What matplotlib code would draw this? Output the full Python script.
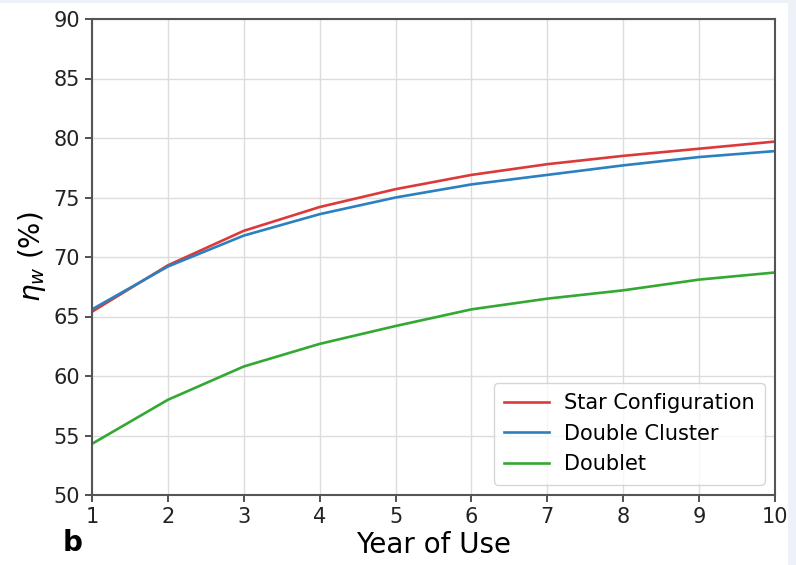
import matplotlib.pyplot as plt
from matplotlib.patches import Rectangle

years = [1, 2, 3, 4, 5, 6, 7, 8, 9, 10]
star = [65.4, 69.3, 72.2, 74.2, 75.7, 76.9, 77.8, 78.5, 79.1, 79.7]
double_cluster = [65.6, 69.2, 71.8, 73.6, 75.0, 76.1, 76.9, 77.7, 78.4, 78.9]
doublet = [54.3, 58.0, 60.8, 62.7, 64.2, 65.6, 66.5, 67.2, 68.1, 68.7]

fig = plt.figure(figsize=(7.96, 5.65), dpi=100, facecolor='white')
# light strips along top and right edge
fig.patches.append(Rectangle((0, 562 / 565), 1, 3 / 565, transform=fig.transFigure,
                             facecolor='#eef2f8', edgecolor='none', zorder=-10))
fig.patches.append(Rectangle((788 / 796, 0), 8 / 796, 1, transform=fig.transFigure,
                             facecolor='#eef2f8', edgecolor='none', zorder=-10))
ax = fig.add_axes([92 / 796, 70 / 565, 683 / 796, 476 / 565])

ax.plot(years, star, color='#dc3a3a', lw=1.9, label='Star Configuration')
ax.plot(years, double_cluster, color='#2b80c0', lw=1.9, label='Double Cluster')
ax.plot(years, doublet, color='#33a833', lw=1.9, label='Doublet')

ax.set_xlim(1, 10)
ax.set_ylim(50, 90)
ax.set_xticks(years)
ax.set_yticks(range(50, 91, 5))
ax.grid(True, color='#dcdcdc', lw=1)
ax.tick_params(labelsize=15, colors='#333333', labelcolor='#222222', length=5, width=1.2)
for spine in ax.spines.values():
    spine.set_color('#555555')
    spine.set_linewidth(1.5)

ax.set_xlabel('Year of Use', fontsize=20, labelpad=3)
ax.set_ylabel(r'$\eta_w$ (%)', fontsize=20, labelpad=4)
ax.legend(loc='lower right', fontsize=15, borderaxespad=0.5, handlelength=2.15,
          handletextpad=0.7, labelspacing=0.5, borderpad=0.5)
fig.text(73 / 796, 22 / 565, 'b', fontsize=20, fontweight='bold', ha='center', va='center')

fig.savefig('out.png', dpi=100)
